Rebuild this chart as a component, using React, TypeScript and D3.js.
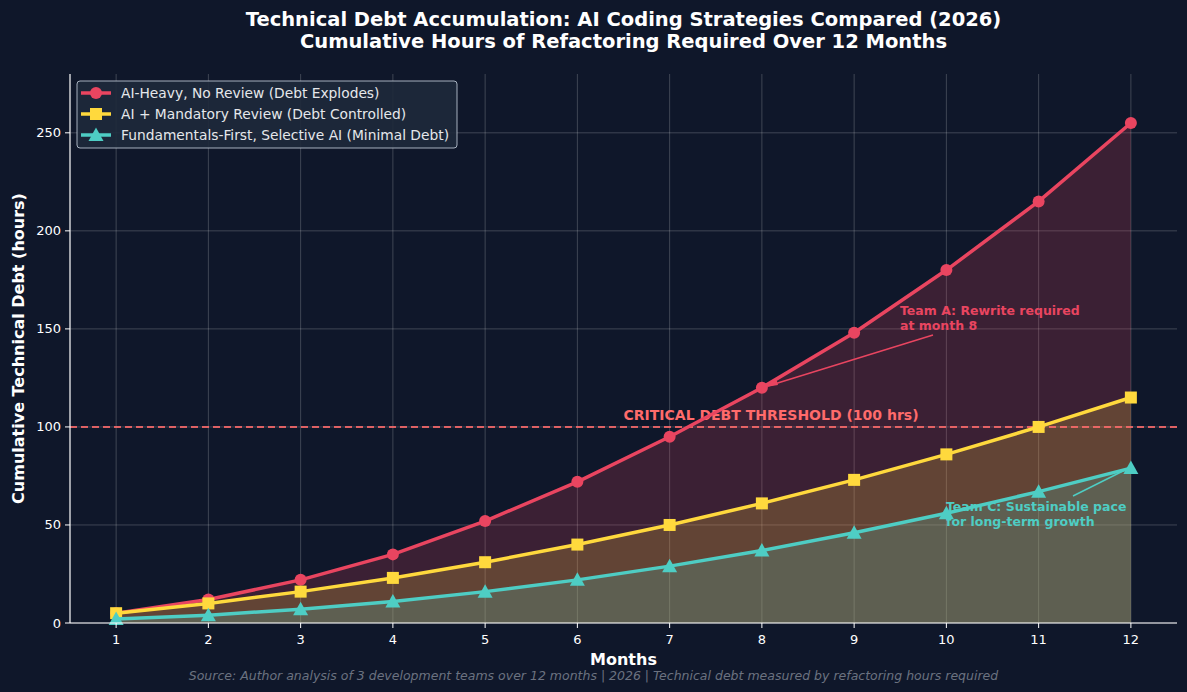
import React from "react";
import * as d3 from "d3";

const months = [1, 2, 3, 4, 5, 6, 7, 8, 9, 10, 11, 12];
const aiHeavy = [5, 12, 22, 35, 52, 72, 95, 120, 148, 180, 215, 255];
const aiReview = [5, 10, 16, 23, 31, 40, 50, 61, 73, 86, 100, 115];
const fundamentals = [2, 4, 7, 11, 16, 22, 29, 37, 46, 56, 67, 79];
const yTicks = [0, 50, 100, 150, 200, 250];
const seriesNames = [
  "AI-Heavy, No Review (Debt Explodes)",
  "AI + Mandatory Review (Debt Controlled)",
  "Fundamentals-First, Selective AI (Minimal Debt)",
];
const colors = ["#e94560", "#ffd93d", "#4ecdc4"];
const markers = ["circle", "square", "triangle"];

const W = 1187, H = 692;
const L = 70, R = 1177, T = 74, B = 623;
const BG = "#0f172a";
const FONT = "DejaVu Sans, sans-serif";

function Marker({ type, x, y, color }: { type: string; x: number; y: number; color: string }) {
  if (type === "circle") return <circle cx={x} cy={y} r={6} fill={color} />;
  if (type === "square") return <rect x={x - 6} y={y - 6} width={12} height={12} fill={color} />;
  const s = 7.5;
  return <path d={`M${x},${y - s}L${x + s},${y + s * 0.8}L${x - s},${y + s * 0.8}Z`} fill={color} />;
}

export default function App() {
  const x = d3.scaleLinear().domain([0.5, 12.5]).range([L, R]);
  const y = d3.scaleLinear().domain([0, 280]).range([B, T]);
  const data = [aiHeavy, aiReview, fundamentals];
  const line = d3.line<number>().x((_, i) => x(months[i])).y((d) => y(d));
  const area = d3.area<number>().x((_, i) => x(months[i])).y0(y(0)).y1((d) => y(d));

  return (
    <svg width={W} height={H} style={{ display: "block", position: "absolute", left: 0, top: 0 }} fontFamily={FONT}>
      <rect width={W} height={H} fill={BG} />
      {/* grid */}
      {months.map((m) => (
        <line key={"gx" + m} x1={x(m)} x2={x(m)} y1={T} y2={B} stroke="#ffffff" strokeOpacity={0.2} strokeWidth={1} />
      ))}
      {yTicks.map((t) => (
        <line key={"gy" + t} x1={L} x2={R} y1={y(t)} y2={y(t)} stroke="#ffffff" strokeOpacity={0.2} strokeWidth={1} />
      ))}
      {/* areas */}
      {data.map((d, i) => (
        <path key={"a" + i} d={area(d) || ""} fill={colors[i]} fillOpacity={0.2} />
      ))}
      {/* threshold */}
      <line x1={L} x2={R} y1={y(100)} y2={y(100)} stroke="#ff6b6b" strokeOpacity={0.85} strokeWidth={2} strokeDasharray="7,4" />
      <text x={x(6.5)} y={y(103.5)} fill="#ff6b6b" fontSize={14} fontWeight="bold">CRITICAL DEBT THRESHOLD (100 hrs)</text>
      {/* lines */}
      {data.map((d, i) => (
        <g key={"l" + i}>
          <path d={line(d) || ""} fill="none" stroke={colors[i]} strokeWidth={3.5} strokeLinejoin="round" />
          {d.map((v, j) => (
            <Marker key={j} type={markers[i]} x={x(months[j])} y={y(v)} color={colors[i]} />
          ))}
        </g>
      ))}
      {/* annotations */}
      <text fill="#e94560" fontSize={12.5} fontWeight="bold">
        <tspan x={900} y={315}>Team A: Rewrite required</tspan>
        <tspan x={900} y={330}>at month 8</tspan>
      </text>
      <line x1={933} y1={335} x2={768} y2={386} stroke="#e94560" strokeWidth={1.5} />
      <path d="M766,387 L776,378 L778,385 Z" fill="#e94560" />
      <text fill="#4ecdc4" fontSize={12.5} fontWeight="bold">
        <tspan x={946} y={511}>Team C: Sustainable pace</tspan>
        <tspan x={946} y={526}>for long-term growth</tspan>
      </text>
      <line x1={1073} y1={496} x2={1127} y2={469} stroke="#4ecdc4" strokeWidth={1.5} />
      {/* axes */}
      <line x1={L} x2={L} y1={T} y2={B} stroke="#ffffff" strokeWidth={1.2} />
      <line x1={L} x2={R} y1={B} y2={B} stroke="#ffffff" strokeWidth={1.2} />
      {months.map((m) => (
        <g key={"xt" + m}>
          <line x1={x(m)} x2={x(m)} y1={B} y2={B + 5} stroke="#ffffff" />
          <text x={x(m)} y={B + 21} fill="#ffffff" fontSize={13} textAnchor="middle">{m}</text>
        </g>
      ))}
      {yTicks.map((t) => (
        <g key={"yt" + t}>
          <line x1={L - 5} x2={L} y1={y(t)} y2={y(t)} stroke="#ffffff" />
          <text x={L - 9} y={y(t) + 4.5} fill="#ffffff" fontSize={13} textAnchor="end">{t}</text>
        </g>
      ))}
      <text x={(L + R) / 2} y={665} fill="#ffffff" fontSize={16} fontWeight="bold" textAnchor="middle">Months</text>
      <text transform={`translate(24,${(T + B) / 2}) rotate(-90)`} fill="#ffffff" fontSize={16} fontWeight="bold" textAnchor="middle">Cumulative Technical Debt (hours)</text>
      {/* title */}
      <text x={(L + R) / 2} y={26} fill="#ffffff" fontSize={19.5} fontWeight="bold" textAnchor="middle">Technical Debt Accumulation: AI Coding Strategies Compared (2026)</text>
      <text x={(L + R) / 2} y={48} fill="#ffffff" fontSize={19.5} fontWeight="bold" textAnchor="middle">Cumulative Hours of Refactoring Required Over 12 Months</text>
      {/* footer */}
      <text x={W / 2} y={680} fill="#6b7280" fontSize={12.5} fontStyle="italic" textAnchor="middle">Source: Author analysis of 3 development teams over 12 months | 2026 | Technical debt measured by refactoring hours required</text>
      {/* legend */}
      <rect x={77} y={81} width={380} height={67} rx={3} fill="#1e293b" fillOpacity={0.9} stroke="#cbd5e1" strokeOpacity={0.8} />
      {seriesNames.map((n, i) => (
        <g key={"lg" + i}>
          <line x1={81} x2={111} y1={93 + i * 21} y2={93 + i * 21} stroke={colors[i]} strokeWidth={3.5} />
          <Marker type={markers[i]} x={96} y={93 + i * 21} color={colors[i]} />
          <text x={121} y={98 + i * 21} fill="#e5e7eb" fontSize={13.8}>{n}</text>
        </g>
      ))}
    </svg>
  );
}
